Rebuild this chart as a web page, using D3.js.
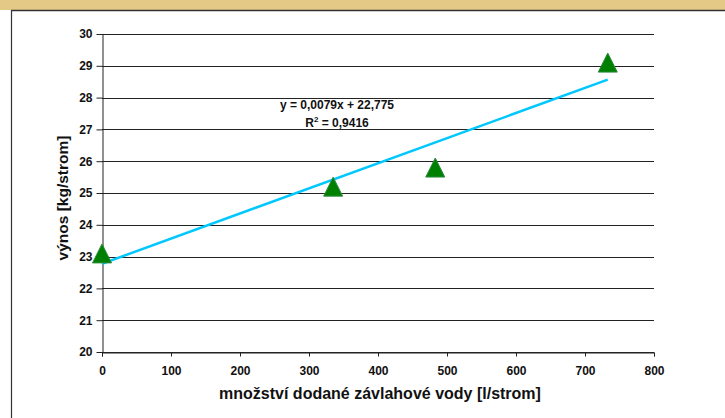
<!DOCTYPE html>
<html>
<head>
<meta charset="utf-8">
<script src="https://cdn.jsdelivr.net/npm/d3@7"></script>
<style>
  body { margin: 0; background: #fff; }
  svg { display: block; font-family: "Liberation Sans", Arial, sans-serif; font-weight: bold; }
</style>
</head>
<body>
<svg id="chart" width="725" height="418"></svg>
<script>
"use strict";

// Data.
const water = [0, 335, 483, 733];          // l/strom
const yieldKg = [23.1, 25.2, 25.8, 29.1];   // kg/strom
const xTicks = [0, 100, 200, 300, 400, 500, 600, 700, 800];
const yTicks = [20, 21, 22, 23, 24, 25, 26, 27, 28, 29, 30];
const trendSlope = 0.0079;
const trendIntercept = 22.775;
const trendLabel = ["y = 0,0079x + 22,775", "R", "2", " = 0,9416"];

const svg = d3.select("#chart"),
    width = +svg.attr("width"),
    height = +svg.attr("height"),
    margin = { top: 34, right: 71, bottom: 66, left: 102 };

// Frame: tan band on top, dark border lines.
svg.append("rect")
    .attr("width", width).attr("height", 10)
    .attr("fill", "#e3c985");
svg.append("line")
    .attr("x1", 11).attr("x2", width).attr("y1", 10.5).attr("y2", 10.5)
    .attr("stroke", "#333").attr("stroke-width", 1.6);
svg.append("line")
    .attr("x1", 11.5).attr("x2", 11.5).attr("y1", 10).attr("y2", height)
    .attr("stroke", "#333").attr("stroke-width", 1.2);

const x = d3.scaleLinear().domain([0, 800]).range([margin.left, width - margin.right]);
const y = d3.scaleLinear().domain([20, 30]).range([height - margin.bottom, margin.top]);

// Gridlines.
svg.append("g")
    .selectAll("line")
    .data(yTicks)
    .enter().append("line")
    .attr("x1", x(0)).attr("x2", x(800))
    .attr("y1", (d) => Math.round(y(d)) + 0.5)
    .attr("y2", (d) => Math.round(y(d)) + 0.5)
    .attr("stroke", "#222").attr("stroke-width", 1);

// Axes.
const xAxis = svg.append("g")
    .attr("transform", "translate(0," + (Math.round(y(20)) + 0.5) + ")")
    .call(d3.axisBottom(x).tickValues(xTicks).tickSizeInner(4).tickSizeOuter(4).tickPadding(10));
const yAxis = svg.append("g")
    .attr("transform", "translate(" + (Math.round(x(0)) + 0.5) + ",0)")
    .call(d3.axisLeft(y).tickValues(yTicks).tickSizeInner(6).tickSizeOuter(0).tickPadding(4));

[xAxis, yAxis].forEach((g) => {
  g.attr("font-family", null).attr("font-size", null);
  g.selectAll("path, line").attr("stroke", "#222");
  g.selectAll("text").attr("fill", "#111").style("font-size", "12px");
});

// Axis titles.
svg.append("text")
    .attr("x", (x(0) + x(800)) / 2 + 2)
    .attr("y", 399)
    .attr("text-anchor", "middle")
    .style("font-size", "16px")
    .attr("fill", "#111")
    .text("množství dodané závlahové vody [l/strom]");
svg.append("text")
    .attr("transform", "translate(68," + (y(25) + 5) + ") rotate(-90)")
    .attr("text-anchor", "middle")
    .style("font-size", "15.5px")
    .attr("fill", "#111")
    .text("výnos [kg/strom]");

// Linear trendline.
const xMin = d3.min(water), xMax = d3.max(water);
svg.append("line")
    .attr("x1", x(xMin)).attr("y1", y(trendIntercept + trendSlope * xMin))
    .attr("x2", x(xMax)).attr("y2", y(trendIntercept + trendSlope * xMax))
    .attr("stroke", "#00c8ff").attr("stroke-width", 2.5);

// Trendline label.
const labelX = 337;
svg.append("text")
    .attr("x", labelX).attr("y", 109)
    .attr("text-anchor", "middle")
    .style("font-size", "12px")
    .attr("fill", "#111")
    .text(trendLabel[0]);
const r2 = svg.append("text")
    .attr("x", labelX).attr("y", 127)
    .attr("text-anchor", "middle")
    .style("font-size", "12px")
    .attr("fill", "#111");
r2.append("tspan").text(trendLabel[1]);
r2.append("tspan").attr("dy", -5).style("font-size", "8px").text(trendLabel[2]);
r2.append("tspan").attr("dy", 5).text(trendLabel[3]);

// Triangle markers.
const tri = 9.5;
svg.append("g")
    .selectAll("path")
    .data(water.map((w, i) => [w, yieldKg[i]]))
    .enter().append("path")
    .attr("d", (d) => {
      const cx = x(d[0]), cy = y(d[1]);
      return "M" + cx + "," + (cy - tri) + "L" + (cx + tri) + "," + (cy + tri) +
          "L" + (cx - tri) + "," + (cy + tri) + "Z";
    })
    .attr("fill", "#008000")
    .attr("stroke", "#2e8b3e")
    .attr("stroke-width", 1);
</script>
</body>
</html>
